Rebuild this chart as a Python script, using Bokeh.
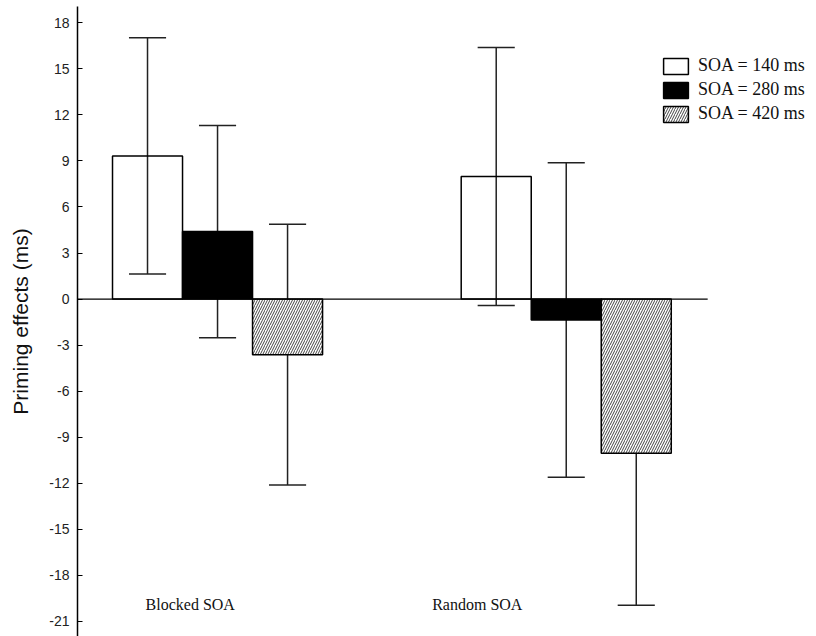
from bokeh.plotting import figure
from bokeh.models import FixedTicker, Range1d, Legend, LegendItem
from bokeh.core.properties import value
from bokeh.embed import file_html
from bokeh.resources import INLINE

# ---- data ----
conditions = ["Blocked SOA", "Random SOA"]
series = ["SOA = 140 ms", "SOA = 280 ms", "SOA = 420 ms"]
means_140 = [9.33, 7.98]
means_280 = [4.40, -1.37]
means_420 = [-3.63, -10.06]
err_140 = [7.70, 8.41]
err_280 = [6.92, 10.25]
err_420 = [8.50, 9.90]
y_ticks = list(range(-21, 19, 3))

means = [means_140, means_280, means_420]
errs = [err_140, err_280, err_420]

# layout (x in bar-width units)
group_start = [1.0, 5.98]
bar_w = 1.0
cap_half = 0.265

p = figure(width=808, height=636, output_backend="svg", toolbar_location=None,
           x_range=Range1d(0, 10.44), y_range=Range1d(-22.0, 19.07),
           x_axis_location=None, min_border_left=77, min_border_right=0,
           min_border_top=6, min_border_bottom=0)
p.outline_line_color = None
p.grid.visible = False
p.background_fill_color = "white"

# error bars (drawn first, bars cover them)
for s in range(3):
    xs = [group_start[g] + s for g in range(2)]
    lo = [means[s][g] - errs[s][g] for g in range(2)]
    hi = [means[s][g] + errs[s][g] for g in range(2)]
    p.segment(x0=xs, x1=xs, y0=lo, y1=hi, line_color="#222222", line_width=1.5)
    p.segment(x0=[x - cap_half for x in xs], x1=[x + cap_half for x in xs],
              y0=lo, y1=lo, line_color="#222222", line_width=1.5)
    p.segment(x0=[x - cap_half for x in xs], x1=[x + cap_half for x in xs],
              y0=hi, y1=hi, line_color="#222222", line_width=1.5)

r1 = p.vbar(x=[group_start[g] + 0 for g in range(2)], top=means_140, bottom=0, width=bar_w,
            fill_color=None, line_color="black", line_width=1.5)
r2 = p.vbar(x=[group_start[g] + 1 for g in range(2)], top=means_280, bottom=0, width=bar_w,
            fill_color="black", line_color="black", line_width=1.5)
r3 = p.vbar(x=[group_start[g] + 2 for g in range(2)], top=means_420, bottom=0, width=bar_w,
            fill_color="white", line_color="black", line_width=1.5,
            hatch_pattern="right_diagonal_line", hatch_color="#444444",
            hatch_scale=5, hatch_weight=1)

# zero line
p.segment(x0=[0], x1=[9.0], y0=[0], y1=[0], line_color="black", line_width=1.3)

# category labels
p.text(x=[1.61, 5.71], y=[-19.94, -19.94], text=conditions,
       text_font=value("Liberation Serif"), text_font_size="16px",
       text_align="center", text_baseline="middle", text_color="#111111")

# y axis
yax = p.yaxis[0]
yax.ticker = FixedTicker(ticks=y_ticks)
yax.major_label_overrides = {t: str(t) for t in y_ticks}
yax.axis_label = "Priming effects (ms)"
yax.axis_label_text_font = "Liberation Sans"
yax.axis_label_text_font_size = "21px"
yax.axis_label_text_font_style = "normal"
yax.axis_label_text_color = "#111111"
yax.axis_label_standoff = 14
yax.major_label_text_font = "Liberation Sans"
yax.major_label_text_font_size = "14px"
yax.major_label_text_color = "#222222"
yax.major_label_standoff = 8
yax.major_tick_in = 5
yax.major_tick_out = 0
yax.minor_tick_in = 0
yax.minor_tick_out = 0
yax.axis_line_color = "black"
yax.axis_line_width = 1.5
yax.major_tick_line_width = 1.2

legend = Legend(items=[LegendItem(label=series[0], renderers=[r1]),
                       LegendItem(label=series[1], renderers=[r2]),
                       LegendItem(label=series[2], renderers=[r3])],
                location=(583, 512), orientation="vertical",
                glyph_width=31, glyph_height=20, label_height=18,
                label_standoff=7, spacing=3, padding=0, margin=0,
                border_line_color=None, background_fill_alpha=0,
                label_text_font="Liberation Serif", label_text_font_size="18px",
                label_text_color="#111111")
p.add_layout(legend, "center")

open("out.html", "w").write(file_html(p, INLINE))
